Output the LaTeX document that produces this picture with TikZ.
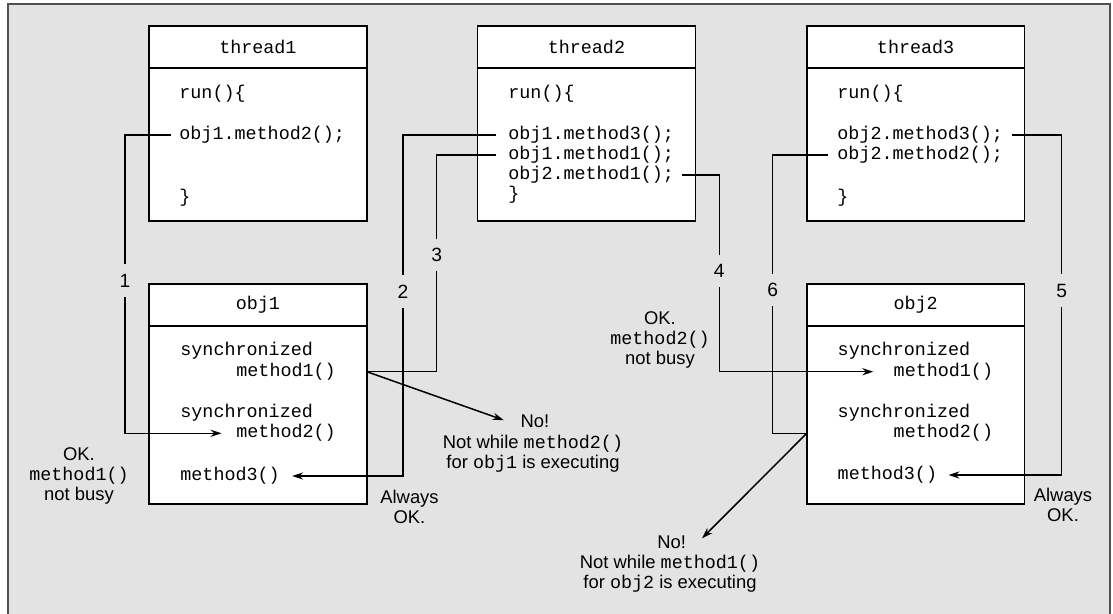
\documentclass[tikz,border=0pt]{standalone}
\usepackage{fontspec}
\setmainfont{Liberation Sans}
\newfontfamily\codefont{Liberation Mono}
\usetikzlibrary{positioning,arrows.meta}
\definecolor{panelgray}{HTML}{E3E3E3}
\definecolor{framegray}{HTML}{505050}
\newcommand{\mtt}[1]{{\codefont #1}}
\tikzset{
  headbox/.style={
    draw,
    fill=white,
    line width=0.8pt,
    outer sep=0pt,
    inner sep=0pt,
    minimum width=108.9pt,
    minimum height=21.1pt,
    font=\codefont\fontsize{9.2}{10.4}\selectfont
  },
  threadbody/.style={
    headbox,
    minimum height=76.4pt
  },
  objbody/.style={
    headbox,
    minimum height=89pt
  },
  code/.style={
    anchor=west,
    inner sep=0pt,
    text height=6.9pt,
    text depth=2.3pt,
    font=\codefont\fontsize{9.2}{10.4}\selectfont
  },
  numlabel/.style={
    inner xsep=1.5pt,
    inner ysep=4.6pt,
    font=\fontsize{9.6}{10.4}\selectfont
  },
  note/.style={
    align=center,
    inner sep=0pt,
    font=\fontsize{9.2}{10}\selectfont
  },
  wire/.style={line width=0.75pt},
  arr/.style={wire, -{Stealth[length=5.5pt,width=3.6pt]}}
}
\begin{document}
\begin{tikzpicture}[x=0.5pt,y=-0.5pt]
    \useasboundingbox (0,0) rectangle (1113,614);
    \filldraw[fill=panelgray, draw=framegray, line width=1.2pt] (8,4) rectangle (1110,640);

    % threads
    \node[headbox, anchor=north west] (t1) at (149,26) {thread1};
    \node[threadbody, below=0pt of t1] (t1body) {};
    \node[headbox, anchor=north west] (t2) at (477.5,26) {thread2};
    \node[threadbody, below=0pt of t2] (t2body) {};
    \node[headbox, anchor=north west] (t3) at (806.7,26) {thread3};
    \node[threadbody, below=0pt of t3] (t3body) {};

    % objects
    \node[headbox, anchor=north west] (o1) at (149,284) {obj1};
    \node[objbody, below=0pt of o1] (o1body) {};
    \node[headbox, anchor=north west] (o2) at (806.7,284) {obj2};
    \node[objbody, below=0pt of o2] (o2body) {};

    \node[code] (t1run) at (179,94) {run()\{};
    \node[code] (t1call) at (179,135) {obj1.method2();};
    \node[code] (t1end) at (179,198) {\}};

    \node[code] (t2run) at (508,94) {run()\{};
    \node[code] (t2c1) at (508,135) {obj1.method3();};
    \node[code] (t2c2) at (508,155) {obj1.method1();};
    \node[code] (t2c3) at (508,175) {obj2.method1();};
    \node[code] (t2end) at (508,195) {\}};

    \node[code] (t3run) at (837,94) {run()\{};
    \node[code] (t3c1) at (837,135) {obj2.method3();};
    \node[code] (t3c2) at (837,155) {obj2.method2();};
    \node[code] (t3end) at (837,198) {\}};

    \node[code] (o1s1) at (180,350.7) {synchronized};
    \node[code] (o1m1) at (236,371.7) {method1()};
    \node[code] (o1s2) at (180,412.7) {synchronized};
    \node[code] (o1m2) at (236,433.3) {method2()};
    \node[code] (o1m3) at (180,476) {method3()};

    \node[code] (o2s1) at (837.3,350.7) {synchronized};
    \node[code] (o2m1) at (893.3,371.7) {method1()};
    \node[code] (o2s2) at (837.3,412.7) {synchronized};
    \node[code] (o2m2) at (893.3,433.3) {method2()};
    \node[code] (o2m3) at (837.3,475) {method3()};

    % call numbers
    \node[numlabel] (n1) at (125,280.5) {1};
    \node[numlabel] (n2) at (403,291.5) {2};
    \node[numlabel] (n3) at (436.7,255) {3};
    \node[numlabel] (n4) at (719.3,271) {4};
    \node[numlabel] (n5) at (1061.7,290.5) {5};
    \node[numlabel] (n6) at (772.7,290) {6};

    \draw[arr, shorten >=7.2pt] ([xshift=-4pt]t1call.west) -| (n1) |- (o1m2.west);
    \draw[arr, shorten >=6pt] ([xshift=-6pt]t2c1.west) -| (n2) |- (o1m3.east);
    \draw[wire] ([xshift=-6pt]t2c2.west) -| (n3) |- (o1m1 -| o1body.east);
    \draw[arr, shorten >=10pt] ([xshift=4pt]t2c3.east) -| (n4) |- (o2m1.west);
    \draw[arr, shorten >=5.5pt] ([xshift=4.5pt]t3c1.east) -| (n5) |- (o2m3.east);
    \draw[wire] ([xshift=-4.5pt]t3c2.west) -| (n6) |- (o2m2 -| o2body.west);

    % remarks
    \node[note] (ok1) at (79,476) {OK.\\\mtt{method1()}\\not busy};
    \node[note] (ok2) at (660,340) {OK.\\\mtt{method2()}\\not busy};
    \node[note] (al1) at (409.5,506.5) {Always\\OK.};
    \node[note] (al2) at (1063,505) {Always\\OK.};

    \node[note] (no1) at (535,421.7) {No!};
    \node[note] (no1txt) at (533,453.3) {Not while \mtt{method2()}\\for \mtt{obj1} is executing};
    \node[note] (no2) at (671.7,542.3) {No!};
    \node[note] (no2txt) at (670,573.7) {Not while \mtt{method1()}\\for \mtt{obj2} is executing};

    \draw[arr] (o1m1 -| o1body.east) -- ([xshift=-8.3pt,yshift=0.8pt]no1.west);
    \draw[arr] (o2m2 -| o2body.west) -- ([xshift=7.8pt,yshift=2pt]no2.east);
\end{tikzpicture}
\end{document}
